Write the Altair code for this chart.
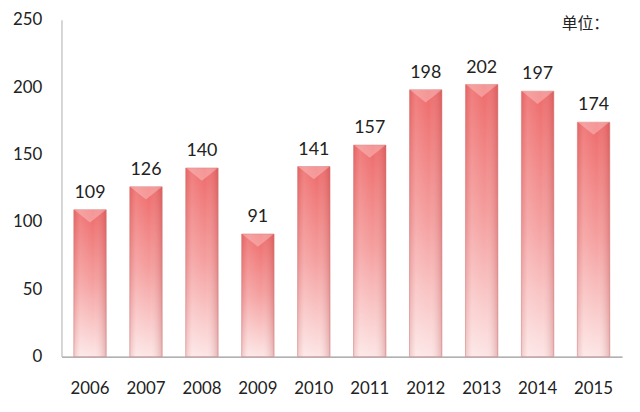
import altair as alt
import pandas as pd

years = ["2006", "2007", "2008", "2009", "2010", "2011", "2012", "2013", "2014", "2015"]
values = [109, 126, 140, 91, 141, 157, 198, 202, 197, 174]
unit_label = ["单位："]

df = pd.DataFrame({"year": years, "value": values})

FONT = "Lato"

x = alt.X("year:N", sort=years, title=None,
          scale=alt.Scale(paddingInner=0.42, paddingOuter=0.22),
          axis=alt.Axis(labelAngle=0, labelFontSize=17, labelFont=FONT, labelColor="#222",
                        ticks=False, labelPadding=24, domainColor="#999", domainWidth=1.2))
y = alt.Y("value:Q", title=None,
          scale=alt.Scale(domain=[0, 250]),
          axis=alt.Axis(values=[0, 50, 100, 150, 200, 250], grid=False, ticks=False,
                        labelFontSize=17, labelFont=FONT, labelColor="#222",
                        labelPadding=20, domainColor="#bbb", domainWidth=1.2))

base = alt.Chart(df)

bars = base.mark_bar(
    stroke="#d88a8a", strokeWidth=0.6,
    color=alt.Gradient(
        gradient="linear", x1=0, x2=0, y1=0, y2=1,
        stops=[alt.GradientStop(color="#ee6a6a", offset=0),
               alt.GradientStop(color="#f5a0a0", offset=0.5),
               alt.GradientStop(color="#fde6e6", offset=1)],
    ),
).encode(x=x, y=y)

shade = base.mark_bar(
    color=alt.Gradient(
        gradient="linear", x1=0, x2=1, y1=0, y2=0,
        stops=[alt.GradientStop(color="rgba(180,60,60,0.18)", offset=0),
               alt.GradientStop(color="rgba(255,255,255,0.12)", offset=0.2),
               alt.GradientStop(color="rgba(255,255,255,0.0)", offset=0.6),
               alt.GradientStop(color="rgba(170,50,50,0.28)", offset=1)],
    ),
).encode(x=x, y=y)

bevel = base.mark_point(
    shape="M -1 -0.4 L 1 -0.4 L 0 0.4 Z", filled=True, size=1000,
    color="#ffd6d6", opacity=0.4, yOffset=6.5, strokeWidth=0,
).encode(x=x, y=y)

labels = base.mark_text(dy=-17, fontSize=18, font=FONT, color="#222").encode(
    x=x, y=y, text="value:Q")

unit = alt.Chart(pd.DataFrame({"t": unit_label})).mark_text(
    font="Noto Sans CJK SC", fontSize=16, color="#222", align="left", baseline="middle"
).encode(x=alt.value(505), y=alt.value(4), text="t:N")

chart = alt.layer(bars, shade, bevel, labels, unit).properties(
    width=566, height=340,
    background="white",
    autosize=alt.AutoSizeParams(type="none"),
    padding={"left": 54, "top": 10, "right": 10, "bottom": 46},
).configure_view(strokeWidth=0, stroke="transparent")

chart.save("out.html", embed_options={"renderer": "svg", "actions": False})
